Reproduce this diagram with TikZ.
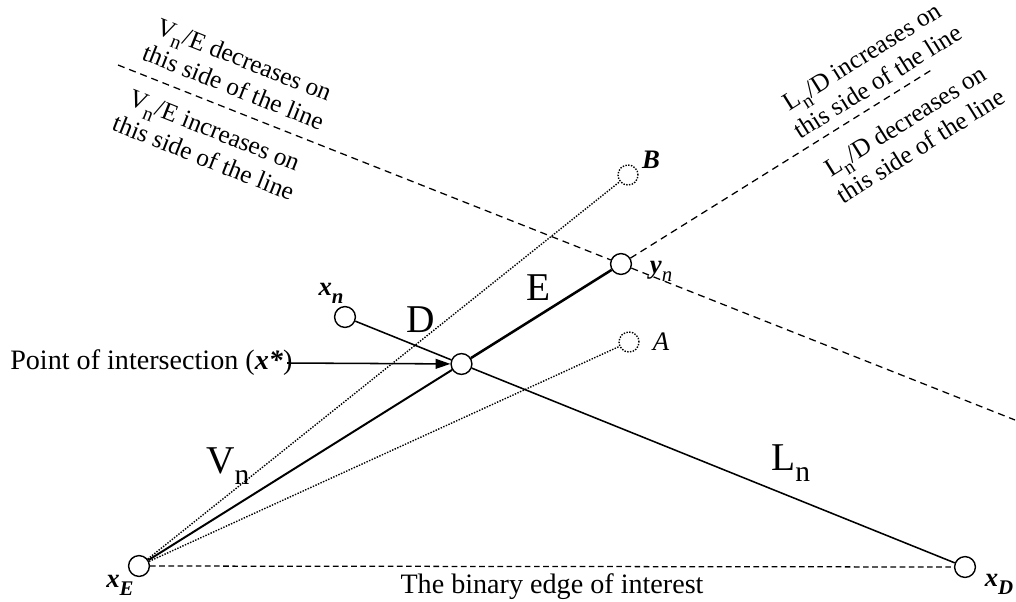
\documentclass[tikz,border=0pt]{standalone}
\usepackage{fontspec}
\setmainfont{Liberation Serif}
\usetikzlibrary{arrows.meta}

\newcommand{\bi}[1]{\textbf{\textit{#1}}}
\newcommand{\bsub}[1]{\raisebox{-.3em}{\fontsize{21}{21}\selectfont #1}}
\newcommand{\lsub}[1]{\raisebox{-.3em}{\scalebox{.78}{#1}}}

\begin{document}
\begin{tikzpicture}[x=0.025cm, y=-0.025cm,
    pt/.style={circle, draw, fill=white, line width=1pt, minimum size=0.52cm, inner sep=0pt},
    ghost/.style={circle, draw, dash pattern=on 1pt off 1pt, line width=1pt, minimum size=0.5cm, inner sep=0pt},
    ptlabel/.style={font=\fontsize{19}{19}\selectfont, inner sep=0pt},
    seglabel/.style={font=\fontsize{28}{28}\selectfont, inner sep=0pt, anchor=base west},
    side/.style={font=\fontsize{18}{21}\selectfont, align=center, inner sep=0pt},
    border/.style={line width=0.9pt, dash pattern=on 5pt off 3.5pt},
    ray/.style={line width=1pt, dash pattern=on 1pt off 1pt}]
    \useasboundingbox (0,0) rectangle (1016,601);

    % Points
    \node[pt] (xE) at (139,566) {};
    \node[pt] (xD) at (965,567) {};
    \node[pt] (xn) at (345,317) {};
    \node[pt] (yn) at (621,264) {};
    \node[pt] (xs) at (intersection of xE--yn and xn--xD) {};
    \node[ghost] (A) at (629,342) {};
    \node[ghost] (B) at (628,175) {};

    % Ends of the dashed lines
    \coordinate (vEa) at (118,65);
    \coordinate (vEb) at (1015,420);
    \coordinate (lDend) at (933,69);

    % V_n and L_n
    \draw[line width=1.4pt] (xE) -- (xs);
    \draw[line width=1.8pt] (xs) -- (yn);
    \draw[border] (yn) -- (lDend);
    \draw[line width=1.1pt] (xn) -- (xs) -- (xD);
    \draw[border] (vEa) -- (yn) -- (vEb);

    % Other candidates
    \draw[ray] (xE) -- (A);
    \draw[ray] (xE) -- (B);

    % Binary edge
    \draw[line width=0.9pt, dash pattern=on 4pt off 2.5pt] (xE) -- (xD);
    \node[font=\fontsize{20}{20}\selectfont] (edge) at (552,587) {The binary edge of interest};

    % Point labels
    \node[ptlabel] (lxn) at (331,293) {\bi{x}\lsub{\bi{n}}};
    \node[ptlabel] (lyn) at (661,271) {\bi{y}\lsub{\textit{n}}};
    \node[ptlabel] (lxE) at (120,585) {\bi{x}\lsub{\bi{E}}};
    \node[ptlabel] (lxD) at (999,584) {\bi{x}\lsub{\bi{D}}};
    \node[ptlabel] (lB) at (651,160) {\bi{B}};
    \node[ptlabel] (lA) at (661,342) {\textit{A}};

    % Segment labels
    \node[seglabel] (labD) at (406,332) {D};
    \node[seglabel] (labE) at (526,300) {E};
    \node[seglabel] (labV) at (206,473) {V\bsub{n}};
    \node[seglabel] (labL) at (771,470) {L\bsub{n}};

    % Intersection
    \node[font=\fontsize{20}{20}\selectfont, anchor=west, inner sep=0pt] (poi) at (10,363) {Point of intersection (\bi{x*})};
    \draw[line width=1.1pt, -{Triangle[length=10.5pt, width=7pt]}] ([xshift=-4pt]poi.east) -- (xs);

    % Sides of the lines
    \node[side, rotate=-21.6] (vEdec) at (239,73) {V\lsub{n}/E decreases on\\this side of the line};
    \node[side, rotate=-21.6] (vEinc) at (209,144) {V\lsub{n}/E increases on\\this side of the line};
    \node[side, rotate=32.1] (lDinc) at (870,69) {L\lsub{n}/D increases on\\this side of the line};
    \node[side, rotate=32.1] (lDdec) at (913,133) {L\lsub{n}/D decreases on\\this side of the line};
\end{tikzpicture}
\end{document}
